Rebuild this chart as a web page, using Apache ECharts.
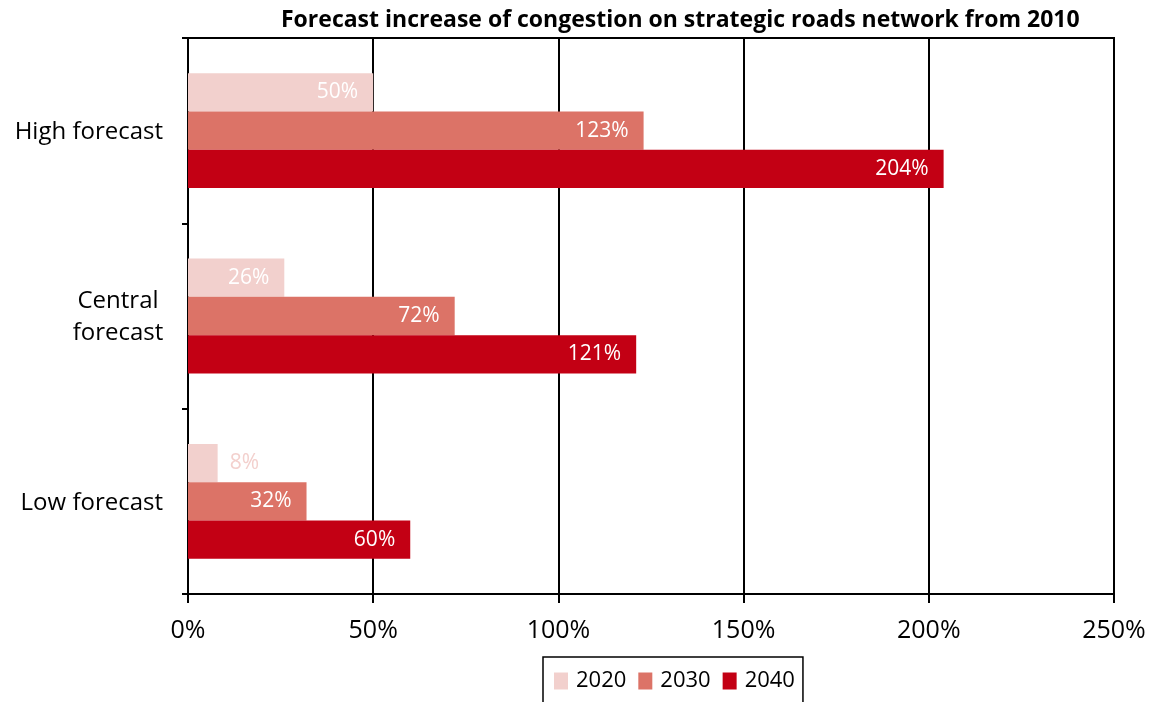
<!DOCTYPE html>
<html><head><meta charset="utf-8">
<script src="https://cdn.jsdelivr.net/npm/echarts@6/dist/echarts.min.js"></script>
<style>html,body{margin:0;padding:0;background:#fff}#c{width:1156px;height:702px}</style>
</head><body><div id="c"></div>
<script>
const categories = ['High forecast', 'Central\nforecast', 'Low forecast'];
const seriesNames = ['2020', '2030', '2040'];
const values2020 = [50, 26, 8];
const values2030 = [123, 72, 32];
const values2040 = [204, 121, 60];
const xTicks = [0, 50, 100, 150, 200, 250];
const colors = ['#f2d0cd', '#dc7367', '#c30014'];
const FONT = 'Open Sans';

const chart = echarts.init(document.getElementById('c'));
function mk(name, data, color) {
  return {
    name, type: 'bar', data: data.map(v => {
      const small = v < 15;
      return {
        value: v,
        label: small ? { position: 'right', distance: 12, color: '#f3d0cd' } : {}
      };
    }),
    barGap: '0%', barCategoryGap: '38%',
    itemStyle: { color },
    label: {
      show: true, position: 'insideRight', distance: 15, color: '#fff',
      fontFamily: FONT, fontSize: 21, padding: [4, 0, 0, 0], formatter: p => p.value + '%'
    },
    z: 3
  };
}
chart.setOption({
  animation: false,
  title: {
    text: 'Forecast increase of congestion on strategic roads network from 2010',
    left: 276, top: 4,
    textStyle: { fontFamily: FONT, fontWeight: 'bold', fontSize: 23, color: '#000' }
  },
  grid: { left: 188, right: 42, top: 38, bottom: 108, show: true, borderColor: '#000', borderWidth: 2, backgroundColor: 'transparent' },
  legend: {
    data: seriesNames, left: 543, top: 657,
    borderColor: '#000', borderWidth: 1.5, borderRadius: 0,
    padding: [13, 8, 40, 11],
    itemWidth: 14, itemHeight: 17, itemGap: 12,
    icon: 'rect',
    textStyle: { fontFamily: FONT, fontSize: 22, color: '#000', padding: [3, 0, 0, 3] }
  },
  xAxis: {
    type: 'value', min: 0, max: 250, interval: 50,
    axisLine: { show: true, lineStyle: { color: '#000', width: 2 } },
    axisTick: { show: true, length: 9, lineStyle: { color: '#000', width: 2 } },
    splitLine: { show: true, lineStyle: { color: '#000', width: 2 } },
    axisLabel: { formatter: v => xTicks.includes(v) ? v + '%' : '', fontFamily: FONT, fontSize: 25, color: '#000', margin: 24 }
  },
  yAxis: {
    type: 'category', data: categories, inverse: true,
    axisLine: { show: true, lineStyle: { color: '#000', width: 2 } },
    axisTick: { show: true, length: 6, lineStyle: { color: '#000', width: 2 } },
    axisLabel: {
      fontFamily: FONT, fontSize: 24, color: '#000', margin: 25, padding: [3, 0, 0, 0],
      formatter: v => v.includes('\n') ? v.split('\n').map(s => '{c|' + s + '}').join('\n') : v,
      rich: { c: { fontFamily: FONT, fontSize: 24, color: '#000', width: 90, align: 'center', lineHeight: 32 } }
    },
    splitLine: { show: false }
  },
  series: [
    mk('2020', values2020, colors[0]),
    mk('2030', values2030, colors[1]),
    mk('2040', values2040, colors[2])
  ]
});
</script></body></html>
